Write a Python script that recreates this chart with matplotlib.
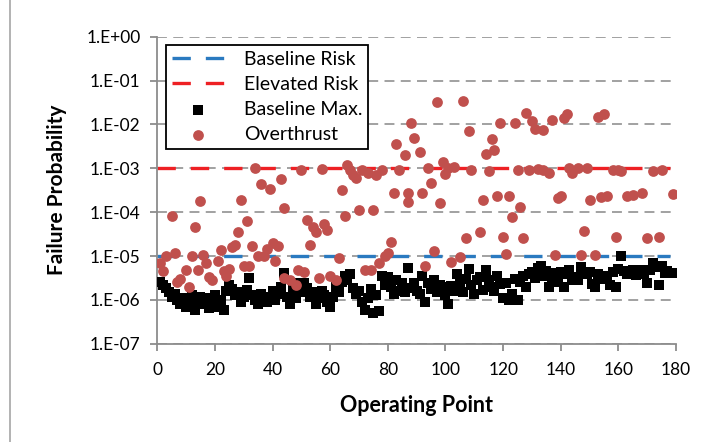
import numpy as np
import matplotlib.pyplot as plt
from matplotlib.lines import Line2D

plt.rcParams['font.family'] = ['Lato', 'DejaVu Sans']

# baseline maximum failure probability, one value per operating point 1..179
base_max = [
    2.6e-6, 2.2e-6, 1.9e-6, 1.5e-6, 1.2e-6, 1.4e-6, 1.0e-6, 8e-7, 1.1e-6, 7e-7,
    9e-7, 1.3e-6, 6e-7, 1.0e-6, 1.2e-6, 8e-7, 1.1e-6, 6.5e-7, 9e-7, 1.3e-6,
    7e-7, 1.0e-6, 6e-7, 1.6e-6, 2.2e-6, 1.8e-6, 1.3e-6, 1.5e-6, 9e-7, 1.2e-6,
    1.7e-6, 3.2e-6, 1.3e-6, 1.0e-6, 8e-7, 1.4e-6, 1.1e-6, 9e-7, 1.2e-6, 1.6e-6,
    1.0e-6, 1.4e-6, 2.0e-6, 4.2e-6, 1.2e-6, 8e-7, 1.7e-6, 1.1e-6, 2.4e-6, 1.5e-6,
    2.4e-6, 1.9e-6, 1.2e-6, 1.5e-6, 8e-7, 1.1e-6, 1.6e-6, 1.3e-6, 9e-7, 7e-7,
    1.2e-6, 2.0e-6, 1.5e-6, 2.6e-6, 3.6e-6, 2.8e-6, 4.0e-6, 1.9e-6, 1.4e-6, 1.6e-6,
    9e-7, 6e-7, 1.1e-6, 1.8e-6, 5e-7, 1.3e-6, 5.5e-7, 3.6e-6, 2.2e-6, 3.4e-6,
    2.0e-6, 1.4e-6, 2.9e-6, 1.6e-6, 2.4e-6, 1.5e-6, 5.5e-6, 1.9e-6, 2.5e-6, 1.6e-6,
    1.4e-6, 3.5e-6, 9e-7, 2.4e-6, 1.8e-6, 2.9e-6, 1.5e-6, 2.2e-6, 2.0e-6, 1.3e-6,
    8e-7, 2.1e-6, 1.6e-6, 4.0e-6, 2.6e-6, 1.5e-6, 3.0e-6, 5.2e-6, 2.2e-6, 1.4e-6,
    2.8e-6, 3.4e-6, 1.7e-6, 4.8e-6, 2.9e-6, 2.0e-6, 1.6e-6, 3.6e-6, 2.3e-6, 1.1e-6,
    2.5e-6, 1.0e-6, 1.4e-6, 3.0e-6, 1.0e-6, 2.6e-6, 3.6e-6, 2.0e-6, 4.0e-6, 4.3e-6,
    3.1e-6, 5.3e-6, 5.8e-6, 3.6e-6, 4.6e-6, 2.0e-6, 3.3e-6, 4.2e-6, 2.6e-6, 4.4e-6,
    2.0e-6, 3.9e-6, 4.8e-6, 2.9e-6, 3.4e-6, 2.9e-6, 5.6e-6, 4.2e-6, 3.9e-6, 4.4e-6,
    2.3e-6, 2.0e-6, 4.0e-6, 3.0e-6, 3.5e-6, 3.2e-6, 2.2e-6, 4.4e-6, 2.0e-6, 5.0e-6,
    1.0e-5, 4.6e-6, 3.9e-6, 4.0e-6, 4.8e-6, 3.7e-6, 4.4e-6, 4.7e-6, 3.9e-6, 2.4e-6,
    4.8e-6, 6.9e-6, 5.6e-6, 2.2e-6, 5.8e-6, 4.2e-6, 4.6e-6, 4.1e-6, 4.1e-6,
]
base_x = list(range(1, len(base_max) + 1))

# overthrust case
over_x = [
    1, 2, 3, 5, 6, 7, 8, 10, 11, 12, 13, 14, 15, 16, 17, 18, 19, 21, 22, 23,
    24, 25, 26, 27, 28, 29, 30, 31, 32, 33, 34, 35, 36, 37, 38, 39, 40, 41, 42, 43,
    44, 44, 46, 48, 49, 50, 51, 52, 53, 54, 55, 56, 57, 58, 59, 60, 62, 63, 64, 65,
    66, 67, 68, 69, 70, 71, 72, 73, 74, 75, 76, 77, 78, 79, 80, 81, 82, 83, 84, 86,
    87, 87, 88, 89, 91, 92, 93, 94, 95, 96, 97, 98, 99, 100, 101, 102, 103, 105, 106, 107,
    108, 109, 112, 113, 114, 115, 116, 117, 118, 119, 120, 121, 122, 123, 124, 125, 126, 127, 128, 129,
    130, 131, 132, 134, 134, 136, 137, 138, 139, 140, 141, 142, 143, 144, 146, 147, 148, 149, 150, 152,
    153, 154, 155, 156, 158, 159, 160, 161, 163, 165, 168, 170, 172, 174, 175, 179,
]
over_p = [
    7e-6, 4.5e-6, 9.8e-6, 8.3e-5, 1.2e-5, 2.6e-6, 3e-6, 4.8e-6, 2e-6, 9.8e-6,
    4.7e-5, 4.8e-6, 1.8e-4, 1.07e-5, 6.9e-6, 3.4e-6, 2.9e-6, 7.6e-6, 1.4e-5, 4.5e-6,
    3.5e-6, 5e-6, 1.6e-5, 1.8e-5, 3.5e-5, 1.9e-4, 5.8e-6, 6.3e-5, 5.8e-6, 1.7e-5,
    1e-3, 9.8e-6, 4.4e-4, 9.8e-6, 1.45e-5, 3.4e-4, 2e-5, 7.9e-6, 1.66e-5, 5.8e-4,
    1.26e-4, 3.2e-6, 2.9e-6, 2.2e-6, 4.8e-6, 9.3e-4, 4.4e-6, 6.8e-5, 1.8e-5, 4.7e-5,
    3.6e-5, 3.1e-6, 9.5e-4, 5.5e-5, 4e-5, 3.6e-6, 2.9e-6, 8.9e-6, 3.2e-4, 8.1e-5,
    1.2e-3, 9.3e-4, 7.2e-4, 6e-4, 1.1e-4, 9.3e-4, 4.8e-6, 7.8e-4, 4.8e-6, 1.1e-4,
    7.2e-4, 6.9e-6, 9.3e-4, 9.8e-6, 1.17e-5, 2.1e-5, 2.75e-4, 3.5e-3, 9.3e-4, 2e-3,
    1.74e-4, 2.8e-4, 1.1e-2, 4.8e-3, 2.4e-3, 2.7e-4, 5.8e-6, 1e-3, 4.7e-4, 1.3e-5,
    3.3e-2, 1.66e-4, 1.4e-3, 7.4e-4, 1e-3, 7.4e-6, 1.05e-3, 9.3e-6, 3.5e-2, 2.6e-5,
    7.2e-3, 9.1e-4, 3.6e-5, 1.9e-4, 2.1e-3, 8.7e-4, 4.6e-3, 2.6e-3, 2.3e-4, 1.07e-2,
    2.7e-5, 1.1e-5, 2.3e-4, 7.9e-5, 1.1e-2, 9.1e-4, 1.3e-4, 2.6e-5, 1.8e-2, 9.1e-4,
    1.17e-2, 7.8e-3, 9.5e-4, 7.6e-3, 9.1e-4, 7.9e-4, 1.26e-2, 1.07e-5, 2.1e-4, 2.3e-4,
    1.4e-2, 1.74e-2, 1e-3, 7.9e-4, 1e-3, 1.07e-5, 3.7e-5, 1e-3, 1.9e-4, 1.07e-5,
    1.5e-2, 2.2e-4, 1.74e-2, 2.3e-4, 9.1e-4, 2.7e-5, 9.1e-4, 8.5e-4, 2.3e-4, 2.5e-4,
    2.7e-4, 2.6e-5, 8.5e-4, 2.75e-5, 9.1e-4, 2.6e-4,
]

risk_x = [0, 178]
baseline_risk = [1e-5, 1e-5]
elevated_risk = [1e-3, 1e-3]

fig = plt.figure(figsize=(7.05, 4.42), dpi=100)
ax = fig.add_axes([0.223, 0.222, 0.736, 0.695])

grid_c = '#9a9a9a'
ax.set_yscale('log')
ax.set_ylim(1e-7, 1)
ax.set_xlim(0, 180)
ax.set_xticks(range(0, 181, 20))
ax.set_yticks([10.0 ** k for k in range(-7, 1)])
ax.set_yticklabels(['1.E-07', '1.E-06', '1.E-05', '1.E-04', '1.E-03',
                    '1.E-02', '1.E-01', '1.E+00'])
ax.minorticks_off()
ax.yaxis.grid(True, color=grid_c, lw=1.3, dashes=(5.5, 3.5))
ax.set_axisbelow(True)

for s in ['top', 'right']:
    ax.spines[s].set_visible(False)
for s in ['left', 'bottom']:
    ax.spines[s].set_color('#8c8c8c')
    ax.spines[s].set_linewidth(1.3)
ax.tick_params(colors='#8c8c8c', length=5, width=1.3, labelsize=12.5,
               labelcolor='black')
ax.tick_params(axis='y', pad=7)
ax.tick_params(axis='x', pad=8)

ax.plot(risk_x, baseline_risk, color='#2a7ac0', lw=2.4, dashes=(5.5, 4.5),
        zorder=2, label='Baseline Risk')
ax.plot(risk_x, elevated_risk, color='#ee2024', lw=2.4, dashes=(5.5, 4.5),
        zorder=2, label='Elevated Risk')
ax.scatter(base_x, base_max, marker='s', s=46, color='black', linewidths=0,
           zorder=3, label='Baseline Max.')
ax.scatter(over_x, over_p, marker='o', s=60, color='#c0504d', linewidths=0,
           zorder=4, label='Overthrust')

ax.set_xlabel('Operating Point', fontsize=15.5, fontweight='bold', labelpad=12)
ax.set_ylabel('Failure Probability', fontsize=15, fontweight='bold', labelpad=14)

leg = ax.legend(loc='upper left', bbox_to_anchor=(0.0168, 0.973),
                borderaxespad=0, fontsize=14, handlelength=2.7,
                handletextpad=1.0, labelspacing=0.42, borderpad=0.3,
                fancybox=False, framealpha=1, markerscale=1.0)
leg.get_frame().set_edgecolor('black')
leg.get_frame().set_linewidth(1.3)

# outer chart frame edge
fig.add_artist(Line2D([0.014, 0.014], [0, 1], color='#a6a6a6', lw=1.2))

fig.savefig('out.png', dpi=100)
